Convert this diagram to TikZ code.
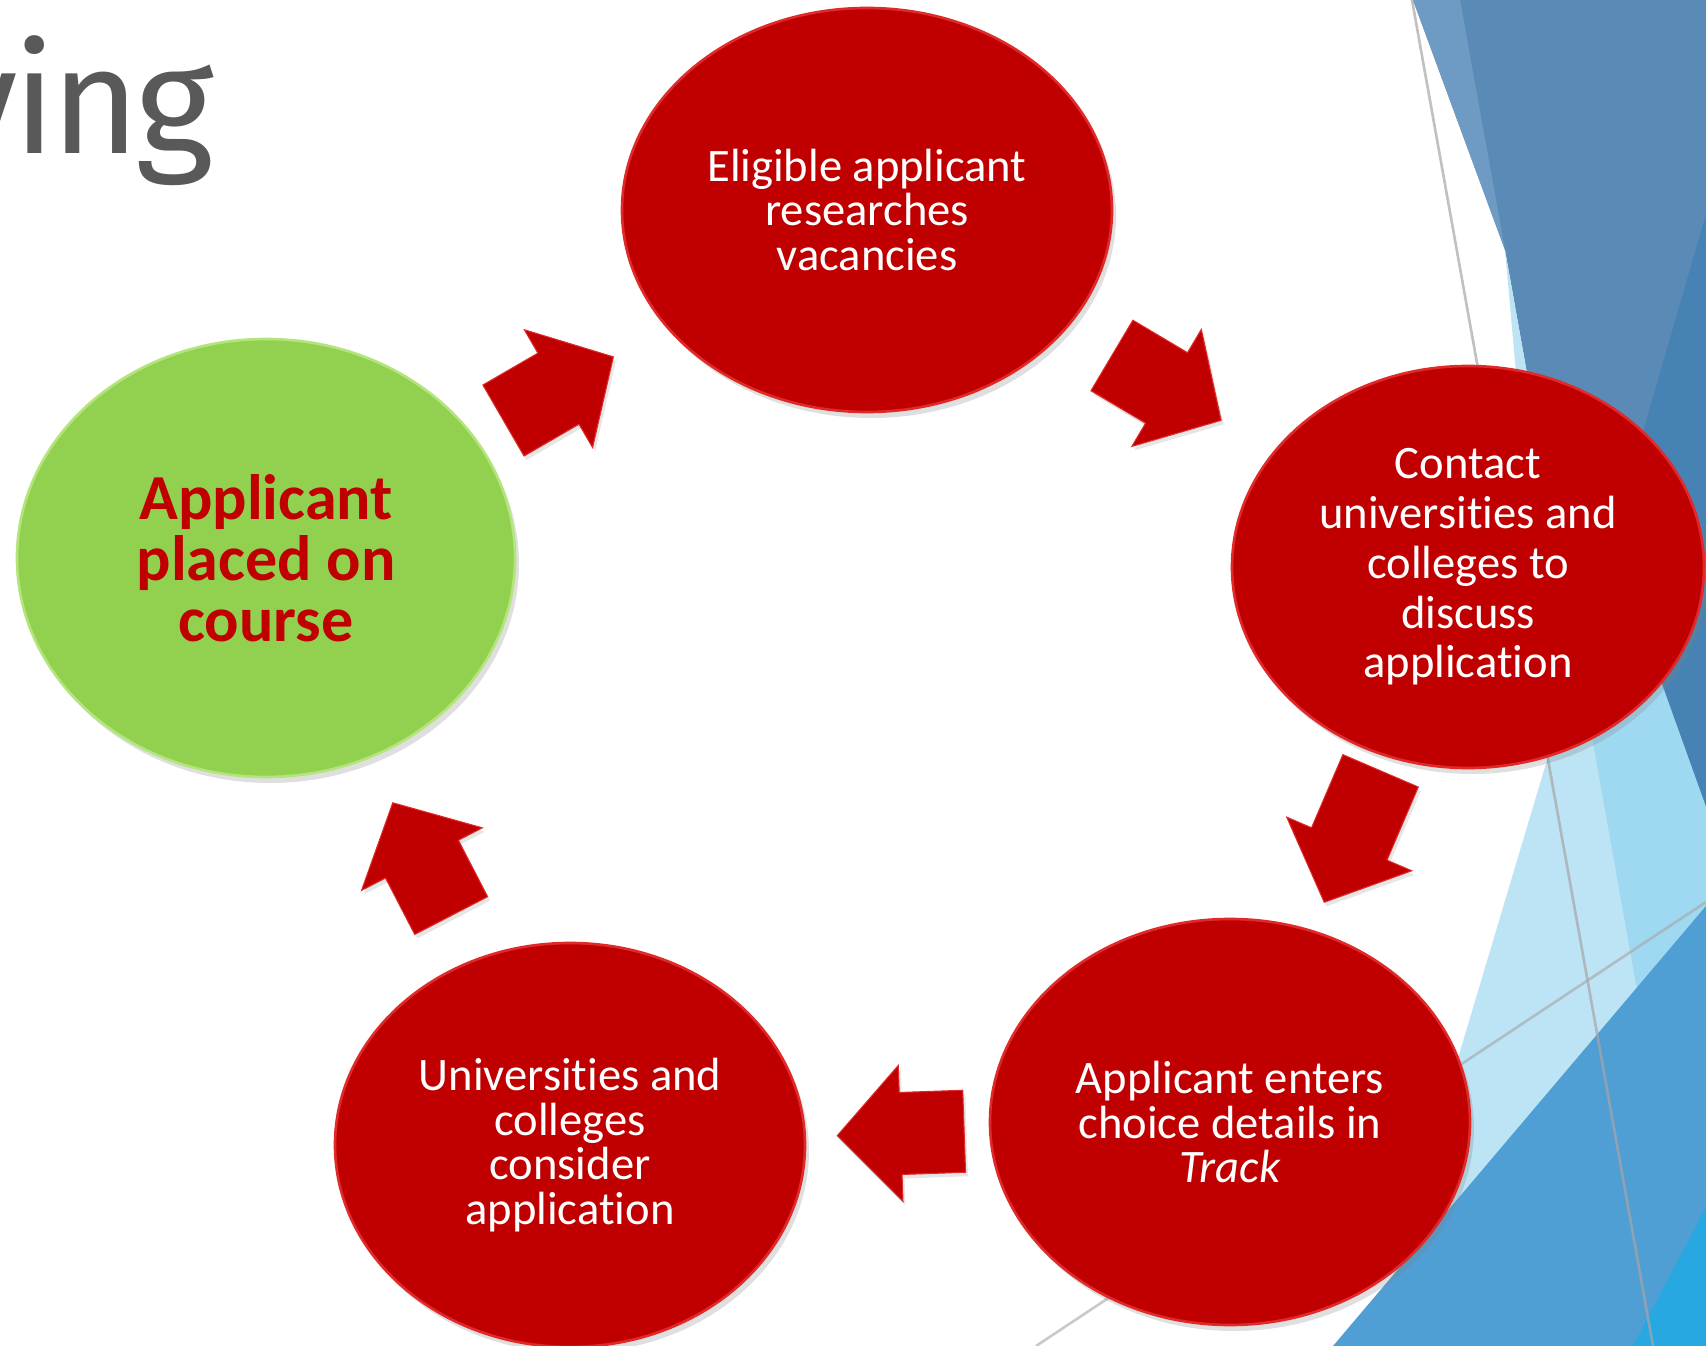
\documentclass[tikz,border=0pt]{standalone}
\usepackage{fontspec}
\setmainfont{Carlito}[Ligatures=NoCommon]
\newfontfamily\titlefont{Fira Sans}[LetterSpace=-3]
\usetikzlibrary{shapes.geometric,shapes.arrows,shadows}
\definecolor{ucasred}{HTML}{C00000}
\definecolor{rimred}{HTML}{E02A2A}
\definecolor{placedgreen}{HTML}{92D050}
\definecolor{rimgreen}{HTML}{B4E47C}
\definecolor{titlegray}{HTML}{595959}
\definecolor{facetsteel}{HTML}{5A8BB6}
\definecolor{facetlight}{HTML}{6E9BC4}
\definecolor{facetdark}{HTML}{4683B4}
\definecolor{facetpale}{HTML}{BCE4F4}
\definecolor{facetsky}{HTML}{9FD8F1}
\definecolor{facetmid}{HTML}{4F9ED4}
\definecolor{facetbright}{HTML}{27A8E0}
\definecolor{facetline}{HTML}{A6A6A6}
\tikzset{
  stage/.style={ellipse, fill=ucasred, draw=rimred, line width=1.5pt, text=white,
    align=center, inner sep=0pt,
    font=\fontsize{26.5}{25.4}\selectfont,
    drop shadow={shadow xshift=0.8mm, shadow yshift=-1.2mm, opacity=0.25}},
  goal/.style={stage, fill=placedgreen, draw=rimgreen, text=ucasred,
    font=\bfseries\fontsize{36.5}{34.6}\selectfont},
  turn/.style={single arrow, fill=ucasred, draw=rimred, line width=0.6pt,
    minimum height=25.4mm, minimum width=27mm, inner xsep=0pt, inner ysep=8.1mm,
    single arrow head extend=5.4mm, single arrow tip angle=94,
    sloped, allow upside down, midway,
    drop shadow={shadow xshift=0.5mm, shadow yshift=-0.8mm, opacity=0.2}}
}
\begin{document}
\begin{tikzpicture}[x=0.2mm,y=-0.2mm]
  \useasboundingbox (0,0) rectangle (1706,1346);
  % facets on the right
  \fill[facetsteel] (1413,0) -- (1706,0) -- (1706,906) -- (1637,990) -- (1505,250) -- cycle;
  \fill[facetlight] (1413,0) -- (1460,0) -- (1505,250) -- cycle;
  \fill[facetdark] (1706,214) -- (1611,542) -- (1706,807) -- cycle;
  \fill[facetsky] (1574,640) -- (1639,620) -- (1706,807) -- (1706,906) -- (1637,990) -- cycle;
  \fill[facetpale] (1505,250) -- (1550,750) -- (1372,1346) -- (1450,1346) -- (1637,990) -- cycle;
  \fill[facetmid] (1333,1346) -- (1706,906) -- (1706,1346) -- cycle;
  \fill[facetbright] (1633,1346) -- (1706,1207) -- (1706,1346) -- cycle;
  \draw[facetline, line width=1.5pt, opacity=0.7] (1412,0) -- (1653,1346);
  \draw[facetline, line width=1.5pt, opacity=0.6] (1036,1346) -- (1706,902);
  % title
  \begin{scope}
    \clip (0,0) rectangle (1706,1346);
    \node[anchor=base east, inner sep=0pt, text=titlegray,
      font=\titlefont\fontsize{86}{86}\selectfont] (title) at (214,154) {ying};
  \end{scope}
  % stages
  \node[goal, minimum width=99.6mm, minimum height=87.6mm] (placed) at (266,558)
    {Applicant\\placed on\\course};
  \node[stage, minimum width=98mm, minimum height=80.8mm] (research) at (867,210)
    {Eligible applicant\\researches\\vacancies};
  \node[stage, minimum width=94.4mm, minimum height=80.4mm,
    font=\fontsize{26.5}{28.3}\selectfont] (contact) at (1468,567)
    {Contact\\universities and\\colleges to\\discuss\\application};
  \node[stage, minimum width=96mm, minimum height=81.2mm] (track) at (1230,1122)
    {Applicant enters\\choice details in\\\textit{Track}};
  \node[stage, minimum width=94mm, minimum height=80.8mm] (consider) at (570,1145)
    {Universities and\\colleges\\consider\\application};
  % arrows
  \path (placed.center) -- (research.center) node[turn, pos=0.459] (a1) {};
  \path (research.center) -- (contact.center) node[turn, pos=0.471] (a2) {};
  \path (contact.center) -- (track.center) node[turn, pos=0.454, minimum height=28.6mm] (a3) {};
  \path (track.center) -- (consider.center) node[turn, pos=0.47] (a4) {};
  \path (consider.center) -- (placed.center) node[turn, pos=0.458] (a5) {};
\end{tikzpicture}
\end{document}
